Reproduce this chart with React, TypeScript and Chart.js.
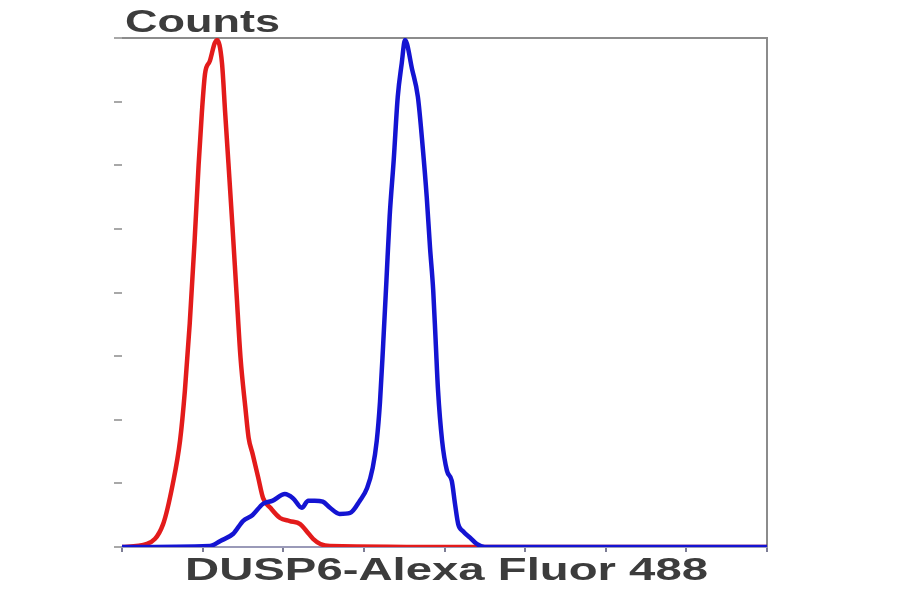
import { useEffect, useRef } from "react"
import { Chart, registerables } from "chart.js"

Chart.register(...registerables)

// channel positions (0-800) and percent of max counts
const isotypeX = [0, 31, 51, 63, 72, 78, 84, 90, 95, 99, 103, 109, 115, 118, 124, 128, 132, 137, 142, 147, 153, 157, 162, 169, 175, 184, 196, 208, 221, 229, 237, 246, 258, 432, 800]
const isotypeY = [0, 0.6, 4.5, 12.4, 20.9, 30.7, 43.9, 60.0, 75.0, 85.2, 93.0, 95.5, 99.0, 99.6, 95.1, 85.2, 75.4, 63.0, 50.0, 37.2, 27.4, 21.5, 18.3, 13.6, 9.6, 7.7, 5.7, 5.1, 4.5, 3.1, 1.6, 0.6, 0.2, 0, 0]

const dusp6X = [0, 109, 122, 138, 150, 162, 175, 187, 202, 212, 223, 231, 239, 249, 258, 270, 283, 295, 304, 311, 316, 320, 324, 328, 332, 337, 342, 347, 351, 360, 367, 373, 378, 382, 386, 389, 392, 397, 403, 409, 413, 417, 423, 432, 440, 450, 800]
const dusp6Y = [0, 0.2, 1.2, 2.6, 5.1, 6.3, 8.5, 9.1, 10.4, 9.6, 7.7, 9.1, 9.1, 8.9, 7.7, 6.5, 6.7, 9.1, 11.6, 15.6, 20.9, 28.5, 40.0, 52.4, 65.0, 76.0, 88.4, 95.1, 99.6, 93.7, 88.4, 78.5, 68.7, 58.9, 50.4, 40.6, 30.7, 20.9, 15.0, 13.0, 8.5, 4.5, 3.1, 1.8, 0.6, 0, 0]

const yTitle = "Counts"
const xTitle = "DUSP6-Alexa Fluor 488"

const toPoints = (xs: number[], ys: number[]) => xs.map((x, i) => ({ x, y: ys[i] }))

// stretched text + top/right frame, like the exported FACS plot
const framePlugin = {
  id: "frame",
  beforeDatasetsDraw(chart: Chart) {
    const { ctx, chartArea: a } = chart
    ctx.save()
    ctx.strokeStyle = "#8c8c8c"
    ctx.lineWidth = 2
    ctx.beginPath()
    ctx.moveTo(a.left, a.top)
    ctx.lineTo(a.right, a.top)
    ctx.lineTo(a.right, a.bottom)
    ctx.stroke()
    ctx.restore()
  },
  afterDraw(chart: Chart) {
    const { ctx } = chart
    const drawText = (text: string, left: number, base: number, width: number) => {
      ctx.save()
      ctx.font = "bold 32px 'Liberation Sans', Arial, sans-serif"
      ctx.fillStyle = "#3c3c3c"
      ctx.textBaseline = "alphabetic"
      const w = ctx.measureText(text).width
      ctx.translate(left, base)
      ctx.scale(width / w, 1)
      ctx.fillText(text, 0, 0)
      ctx.restore()
    }
    drawText(yTitle, 125, 32, 155)
    drawText(xTitle, 185, 580, 523)
  },
}

export default function App() {
  const canvasRef = useRef<HTMLCanvasElement>(null)
  const chartRef = useRef<Chart | null>(null)

  useEffect(() => {
    if (!canvasRef.current) return
    if (chartRef.current) chartRef.current.destroy()

    chartRef.current = new Chart(canvasRef.current, {
      type: "line",
      data: {
        datasets: [
          {
            label: "DUSP6",
            data: toPoints(dusp6X, dusp6Y),
            borderColor: "#1414d2",
            borderWidth: 4.5,
            pointRadius: 0,
            cubicInterpolationMode: "monotone",
            fill: false,
          },
          {
            label: "Isotype",
            data: toPoints(isotypeX, isotypeY),
            borderColor: "#e31b1b",
            borderWidth: 4.5,
            pointRadius: 0,
            cubicInterpolationMode: "monotone",
            fill: false,
          },
        ],
      },
      options: {
        animation: false,
        responsive: false,
        devicePixelRatio: 1,
        layout: { padding: { top: 38, right: 133, bottom: 42, left: 114 } },
        plugins: {
          legend: { display: false },
          tooltip: { enabled: false },
        },
        scales: {
          x: {
            type: "linear",
            min: 0,
            max: 800,
            ticks: { display: false, stepSize: 100 },
            grid: { drawOnChartArea: false, tickLength: 5, color: "#7d7d95", lineWidth: 2 },
            border: { display: true, color: "#9a9ab8", width: 2 },
          },
          y: {
            min: 0,
            max: 100,
            ticks: { display: false, stepSize: 12.5 },
            grid: { drawOnChartArea: false, tickLength: 8, color: "#a8a8a8", lineWidth: 2 },
            border: { display: false },
          },
        },
      },
      plugins: [framePlugin],
    })

    return () => {
      if (chartRef.current) chartRef.current.destroy()
      chartRef.current = null
    }
  }, [])

  return (
    <div style={{ position: "absolute", left: 0, top: 0, width: 900, height: 594, background: "#fff" }}>
      <canvas ref={canvasRef} width={900} height={594} />
    </div>
  )
}
